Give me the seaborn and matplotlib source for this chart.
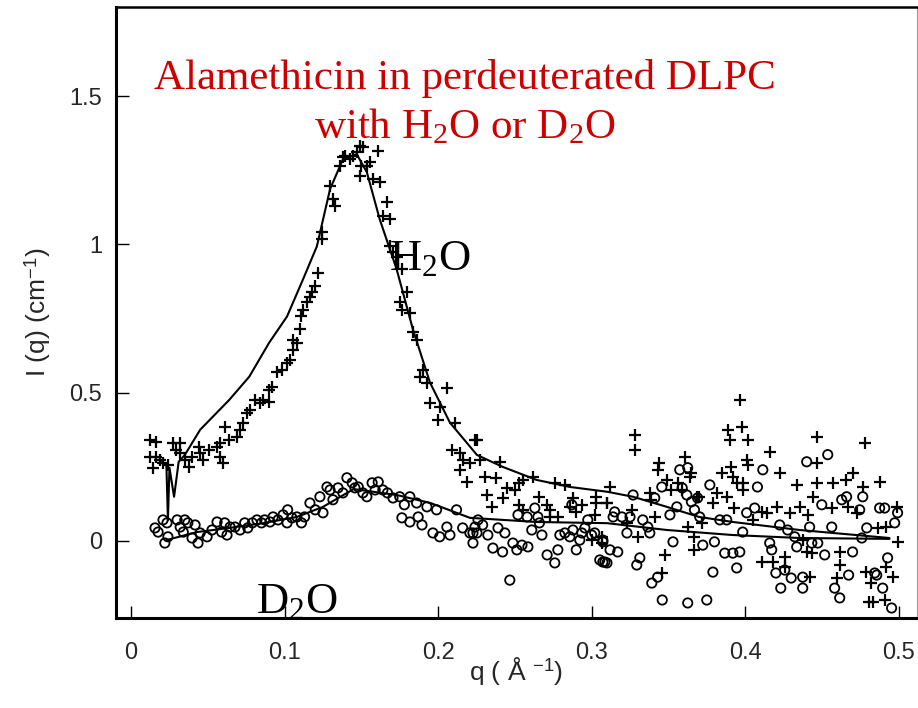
import matplotlib
matplotlib.use("Agg")
import matplotlib.pyplot as plt
import pandas as pd
import seaborn as sns

# H2O data (+ markers)
h2o_q = [0.012, 0.016, 0.012, 0.016, 0.019, 0.014, 0.021, 0.024, 0.027, 0.032,
         0.029, 0.032, 0.035, 0.040, 0.038, 0.044, 0.045, 0.047, 0.051, 0.056,
         0.058, 0.061, 0.058, 0.060, 0.064, 0.069, 0.071, 0.073, 0.0755, 0.0775,
         0.081, 0.084, 0.086, 0.090, 0.090, 0.092, 0.095, 0.098, 0.1016, 0.1035,
         0.1055, 0.108, 0.1055, 0.110, 0.111, 0.112, 0.1146, 0.1165, 0.118, 0.120,
         0.1217, 0.1243, 0.1243,
         0.1315, 0.133, 0.1296, 0.136, 0.138, 0.1393, 0.1426, 0.1445, 0.147, 0.149,
         0.151, 0.161, 0.150, 0.149, 0.1536, 0.1556, 0.1576, 0.162, 0.1667, 0.164,
         0.1686, 0.1686, 0.1706, 0.173, 0.1764, 0.1797, 0.175, 0.1764, 0.1816, 0.1836,
         0.1862, 0.190, 0.188, 0.1927, 0.1947, 0.201, 0.1999, 0.2057, 0.211, 0.209,
         0.214, 0.216, 0.2207, 0.224, 0.214, 0.219,
         0.2253, 0.227, 0.240, 0.2305, 0.238, 0.232, 0.235, 0.242, 0.245, 0.250,
         0.253, 0.255, 0.262, 0.266, 0.271, 0.273, 0.278, 0.253, 0.255, 0.276,
         0.2826, 0.286, 0.290, 0.294, 0.288, 0.303, 0.303, 0.310, 0.302, 0.300,
         0.3066, 0.307, 0.273,
         0.312, 0.310, 0.328, 0.328, 0.326, 0.323, 0.330, 0.338, 0.341, 0.339,
         0.344, 0.343, 0.348, 0.346, 0.349, 0.352, 0.356, 0.359, 0.3607, 0.364,
         0.365, 0.3626, 0.367, 0.367, 0.3685, 0.370, 0.372, 0.379, 0.3815, 0.385,
         0.388, 0.389, 0.390, 0.391, 0.392, 0.393, 0.3945, 0.3965, 0.398, 0.4017,
         0.3985, 0.401, 0.4017, 0.3985,
         0.405, 0.414, 0.416, 0.4225, 0.411, 0.4206, 0.411, 0.418, 0.4258, 0.4258,
         0.429, 0.434, 0.4355, 0.4408, 0.4375, 0.440, 0.4434, 0.442, 0.444, 0.447,
         0.4466, 0.447, 0.457, 0.4616, 0.4616, 0.460, 0.4564, 0.4668, 0.4727, 0.470,
         0.466, 0.4766, 0.478, 0.479, 0.482, 0.481, 0.483, 0.4876, 0.4863, 0.492,
         0.491, 0.492, 0.496, 0.4987, 0.4993]
h2o_i = [0.341, 0.334, 0.284, 0.284, 0.274, 0.247, 0.264, 0.257, 0.331, 0.331,
         0.307, 0.297, 0.274, 0.284, 0.250, 0.318, 0.297, 0.274, 0.307, 0.318,
         0.331, 0.385, 0.284, 0.264, 0.341, 0.351, 0.375, 0.399, 0.432, 0.443,
         0.476, 0.466, 0.476, 0.470, 0.510, 0.520, 0.568, 0.578, 0.601, 0.611,
         0.645, 0.669, 0.679, 0.713, 0.757, 0.780, 0.804, 0.824, 0.841, 0.858,
         0.905, 1.040, 1.017,
         1.152, 1.128, 1.196, 1.264, 1.294, 1.297, 1.287, 1.297, 1.311, 1.331,
         1.328, 1.314, 1.264, 1.230, 1.264, 1.277, 1.220, 1.209, 1.142, 1.095,
         1.084, 0.993, 0.973, 0.959, 0.916, 0.838, 0.804, 0.780, 0.770, 0.703,
         0.679, 0.578, 0.554, 0.534, 0.466, 0.453, 0.409, 0.517, 0.399, 0.307,
         0.297, 0.274, 0.264, 0.341, 0.240, 0.200,
         0.341, 0.274, 0.267, 0.216, 0.213, 0.155, 0.115, 0.145, 0.179, 0.172,
         0.196, 0.206, 0.216, 0.149, 0.122, 0.105, 0.081, 0.122, 0.105, 0.196,
         0.189, 0.115, 0.098, 0.122, 0.145, 0.149, 0.128, 0.128, 0.088, 0.003,
         -0.007, 0.014, 0.081,
         0.182, 0.128, 0.358, 0.307, 0.105, 0.061, 0.014, 0.162, 0.081, 0.139,
         0.264, 0.240, -0.047, -0.108, 0.206, 0.172, 0.196, 0.172, 0.284, 0.216,
         0.230, 0.047, 0.014, -0.030, 0.149, 0.149, 0.061, 0.128, 0.162, 0.230,
         0.149, 0.375, 0.341, 0.250, 0.216, 0.111, 0.196, 0.476, 0.385, 0.341,
         0.196, 0.274, 0.257, 0.172,
         0.071, 0.095, 0.300, 0.230, 0.098, 0.115, -0.071, -0.071, -0.054, -0.088,
         0.095, 0.189, 0.115, 0.088, 0.003, -0.037, -0.041, -0.122, 0.149, 0.196,
         0.264, 0.351, 0.196, -0.037, -0.081, -0.125, 0.111, 0.115, 0.095, 0.230,
         0.206, 0.182, 0.331, -0.105, -0.142, -0.206, -0.206, 0.199, 0.044, 0.047,
         -0.199, -0.088, -0.122, 0.115, -0.003]

# D2O data (o markers)
d2o_q = [0.0156, 0.0176, 0.0208, 0.0234, 0.022, 0.024, 0.030, 0.035, 0.032, 0.037,
         0.0417, 0.034, 0.0397, 0.0436, 0.045, 0.0495, 0.0527, 0.056, 0.059, 0.0625,
         0.061, 0.0645, 0.0677, 0.071, 0.074, 0.076, 0.079, 0.082, 0.085, 0.087,
         0.0905, 0.0925, 0.0957, 0.099, 0.102, 0.1016, 0.1048, 0.108, 0.111, 0.113,
         0.1165, 0.120, 0.123, 0.125, 0.1276,
         0.1296, 0.1315, 0.1348, 0.138, 0.1406, 0.144, 0.1458, 0.148, 0.151, 0.1536,
         0.157, 0.161, 0.159, 0.164, 0.167, 0.1706, 0.175, 0.178, 0.1816, 0.1764,
         0.1816, 0.187, 0.1895, 0.186, 0.1927, 0.199, 0.212, 0.1966, 0.201, 0.2057,
         0.2077, 0.216, 0.2207, 0.224,
         0.226, 0.229, 0.2227, 0.2227, 0.2253, 0.2324, 0.2357, 0.239, 0.2435, 0.242,
         0.2467, 0.2487, 0.2513, 0.2546, 0.2585, 0.261, 0.252, 0.258, 0.263, 0.265,
         0.266, 0.2676, 0.271, 0.276, 0.278, 0.2793, 0.2826, 0.2858, 0.2871, 0.2878,
         0.2923, 0.2936, 0.2956, 0.2975, 0.300, 0.302, 0.3053, 0.3086, 0.3073, 0.290,
         0.3073, 0.312, 0.317, 0.310, 0.3073, 0.315, 0.314, 0.3197, 0.325, 0.327,
         0.323, 0.3314, 0.3294, 0.3333, 0.3366, 0.3379, 0.3411, 0.3392, 0.343, 0.346,
         0.3457, 0.351, 0.353, 0.3555, 0.3574, 0.359, 0.362, 0.3626, 0.3626, 0.365,
         0.367, 0.369, 0.3704, 0.3724, 0.375, 0.377, 0.380, 0.379, 0.3835, 0.3867,
         0.388, 0.392, 0.3945, 0.3965, 0.3984, 0.401, 0.4062, 0.408,
         0.4115, 0.416, 0.4173, 0.420, 0.4232, 0.4258, 0.4225, 0.4277, 0.430, 0.4323,
         0.4336, 0.4375, 0.4375, 0.442, 0.4434, 0.4473, 0.4499, 0.4518, 0.4401, 0.4538,
         0.4564, 0.4616, 0.4583, 0.4629, 0.4661, 0.4674, 0.470, 0.4746, 0.4766, 0.4792,
         0.476, 0.4844, 0.4857, 0.4876, 0.4909, 0.4896, 0.4928, 0.4954, 0.4974, 0.4993]
d2o_i = [0.044, 0.030, 0.071, 0.061, -0.007, 0.014, 0.071, 0.071, 0.047, 0.061,
         0.054, 0.030, 0.010, -0.007, 0.027, 0.014, 0.037, 0.064, 0.030, 0.020,
         0.061, 0.047, 0.047, 0.037, 0.061, 0.044, 0.061, 0.071, 0.061, 0.071,
         0.064, 0.081, 0.071, 0.088, 0.105, 0.061, 0.078, 0.081, 0.061, 0.081,
         0.128, 0.105, 0.149, 0.095, 0.182,
         0.172, 0.139, 0.179, 0.162, 0.213, 0.196, 0.179, 0.182, 0.162, 0.149,
         0.196, 0.199, 0.172, 0.172, 0.162, 0.145, 0.149, 0.122, 0.149, 0.078,
         0.064, 0.081, 0.054, 0.128, 0.115, 0.105, 0.105, 0.027, 0.014, 0.047,
         0.020, 0.044, 0.027, 0.047,
         0.071, 0.054, 0.027, -0.007, 0.027, 0.020, -0.024, 0.044, 0.027, -0.037,
         -0.132, -0.007, -0.030, -0.014, -0.020, 0.037, 0.088, 0.081, 0.111, 0.081,
         0.061, 0.020, -0.047, -0.074, -0.030, 0.020, 0.027, 0.014, 0.122, 0.037,
         0.003, 0.027, 0.044, 0.071, 0.020, 0.027, -0.064, -0.071, 0.003, -0.030,
         -0.003, -0.030, -0.037, -0.074, -0.071, 0.098, 0.081, 0.081, 0.081, 0.155,
         0.027, -0.057, -0.081, 0.071, 0.047, 0.027, 0.145, -0.142, -0.122, -0.199,
         0.182, 0.088, -0.003, 0.115, 0.240, 0.179, 0.155, 0.247, -0.209, 0.132,
         0.105, 0.145, 0.081, -0.014, -0.199, 0.189, -0.003, -0.105, 0.071, -0.041,
         0.071, -0.041, -0.091, -0.037, 0.030, 0.095, 0.111, 0.182,
         0.240, -0.007, -0.030, -0.108, -0.159, -0.098, 0.054, 0.037, -0.125, 0.014,
         -0.020, -0.159, -0.122, 0.047, -0.007, -0.007, 0.122, -0.047, 0.267, 0.291,
         0.047, -0.192, -0.159, 0.139, 0.149, -0.115, -0.037, 0.105, 0.149, 0.044,
         0.010, -0.108, -0.115, 0.111, 0.111, -0.159, -0.057, -0.226, 0.061, 0.095]

# fitted curves
h2o_fit_q = [0.019, 0.023, 0.024, 0.025, 0.028, 0.031, 0.035, 0.045, 0.064, 0.077,
             0.090, 0.1016, 0.112, 0.121, 0.1296, 0.138, 0.147, 0.1536, 0.162, 0.173,
             0.1836, 0.1947, 0.2077, 0.2253, 0.242, 0.264, 0.286, 0.310, 0.327, 0.349,
             0.370, 0.392, 0.4355, 0.494]
h2o_fit_i = [0.267, 0.257, 0.070, 0.247, 0.149, 0.267, 0.290, 0.375, 0.476, 0.554,
             0.669, 0.757, 0.882, 0.993, 1.186, 1.287, 1.304, 1.243, 1.084, 0.916,
             0.713, 0.534, 0.399, 0.290, 0.250, 0.206, 0.182, 0.166, 0.149, 0.115,
             0.081, 0.064, 0.037, 0.010]
d2o_fit_q = [0.023, 0.043, 0.064, 0.086, 0.108, 0.125, 0.145, 0.173, 0.195, 0.2207,
             0.264, 0.310, 0.349, 0.392, 0.4355, 0.494]
d2o_fit_i = [0.003, 0.030, 0.044, 0.060, 0.081, 0.115, 0.175, 0.155, 0.128, 0.078,
             0.064, 0.060, 0.037, 0.020, 0.010, 0.007]

x_ticks = [0, 0.1, 0.2, 0.3, 0.4, 0.5]
x_tick_labels = ["0", "0.1", "0.2", "0.3", "0.4", "0.5"]
y_ticks = [0, 0.5, 1, 1.5]
y_tick_labels = ["0", "0.5", "1", "1.5"]

sns.set_style("ticks")
plt.rcParams["font.family"] = ["Liberation Sans", "DejaVu Sans"]
plt.rcParams["mathtext.fontset"] = "custom"
plt.rcParams["mathtext.rm"] = "Liberation Serif"
plt.rcParams["mathtext.it"] = "Liberation Serif:italic"
plt.rcParams["mathtext.sf"] = "Liberation Sans"

df_h2o = pd.DataFrame({"q": h2o_q, "I": h2o_i})
df_d2o = pd.DataFrame({"q": d2o_q, "I": d2o_i})
df_h2o_fit = pd.DataFrame({"q": h2o_fit_q, "I": h2o_fit_i})
df_d2o_fit = pd.DataFrame({"q": d2o_fit_q, "I": d2o_fit_i})

fig = plt.figure(figsize=(9.18, 7.08), dpi=100)
ax = fig.add_axes([0.1264, 0.127, 0.8726, 0.863])

sns.lineplot(data=df_h2o_fit, x="q", y="I", ax=ax, color="black", linewidth=1.5,
             sort=False, estimator=None)
sns.lineplot(data=df_d2o_fit, x="q", y="I", ax=ax, color="black", linewidth=1.5,
             sort=False, estimator=None)
sns.scatterplot(data=df_d2o, x="q", y="I", ax=ax, marker="o", s=45,
                facecolor="none", edgecolor="black", linewidth=1.3)
sns.scatterplot(data=df_h2o, x="q", y="I", ax=ax, marker="+", s=85,
                color="black", linewidth=1.6)

ax.set_xlim(-0.0098, 0.512)
ax.set_ylim(-0.26, 1.80)
ax.set_xticks(x_ticks)
ax.set_xticklabels(x_tick_labels)
ax.set_yticks(y_ticks)
ax.set_yticklabels(y_tick_labels)
ax.tick_params(direction="in", length=9, width=1, labelsize=17, color="black")
ax.tick_params(axis="x", pad=17)
ax.tick_params(axis="y", pad=10)

for side in ["left", "bottom"]:
    ax.spines[side].set_linewidth(2.2)
ax.spines["top"].set_linewidth(1.8)
ax.spines["right"].set_linewidth(0.8)
ax.spines["right"].set_color("#999999")
for side in ax.spines:
    if side != "right":
        ax.spines[side].set_color("black")

ax.set_xlabel("q ( Å $^{\\mathsf{-1}}$)", fontsize=19, labelpad=-6)
ax.set_ylabel("I (q) (cm$^{\\mathsf{-1}}$)", fontsize=19, labelpad=12)

serif = ["Liberation Serif", "DejaVu Serif"]
ax.text(0.2174, 1.56, "Alamethicin in perdeuterated DLPC", color="#cc0000",
        fontsize=31, family=serif, ha="center", va="center")
ax.text(0.2174, 1.395, "with H$_2$O or D$_2$O", color="#cc0000",
        fontsize=31, family=serif, ha="center", va="center")
ax.text(0.1947, 0.95, "H$_2$O", color="black", fontsize=32, family=serif,
        ha="center", va="center")
ax.text(0.108, -0.205, "D$_2$O", color="black", fontsize=32, family=serif,
        ha="center", va="center")

fig.savefig("out.png", dpi=100)
